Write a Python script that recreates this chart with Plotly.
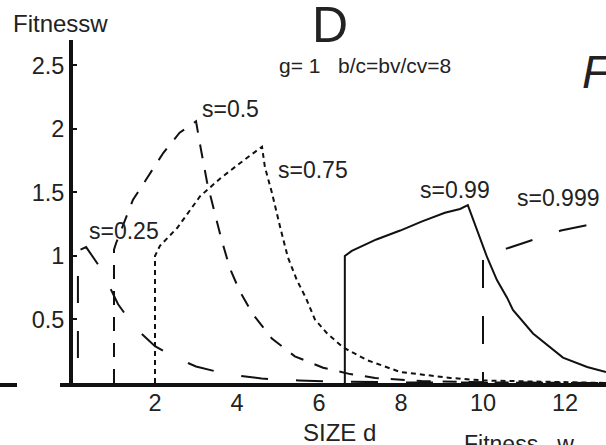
import plotly.graph_objects as go

# ---- data (SIZE d, fitness w) ----
s025_d = [0.12, 0.12, 0.32, 0.66, 1.1, 1.5, 2.0, 2.5, 3.0, 3.5, 4.0, 4.6, 5.5, 6.5, 8.0, 10.0, 13.0]
s025_w = [0.0, 1.04, 1.07, 0.91, 0.62, 0.44, 0.29, 0.20, 0.13, 0.09, 0.06, 0.035, 0.02, 0.01, 0.005, 0.002, 0.0]

s05_d = [1.0, 1.0, 1.05, 1.46, 1.8, 2.2, 2.6, 3.0, 3.12, 3.27, 3.44, 3.63, 3.83, 4.07, 4.39, 4.85, 5.41, 6.1, 6.76, 7.37, 8.5, 10.0, 13.0]
s05_w = [0.0, 1.05, 1.1, 1.44, 1.61, 1.81, 1.97, 2.06, 1.84, 1.58, 1.36, 1.12, 0.90, 0.72, 0.54, 0.35, 0.21, 0.12, 0.07, 0.04, 0.015, 0.005, 0.0]

s075_d = [2.0, 2.0, 2.12, 2.54, 3.1, 3.59, 4.07, 4.44, 4.61, 4.68, 4.85, 5.05, 5.24, 5.46, 5.68, 5.9, 6.2, 6.59, 7.17, 7.98, 9.2, 10.0, 11.5, 13.0]
s075_w = [0.0, 1.0, 1.08, 1.22, 1.47, 1.61, 1.73, 1.82, 1.86, 1.70, 1.50, 1.23, 0.99, 0.81, 0.67, 0.50, 0.39, 0.28, 0.18, 0.087, 0.04, 0.02, 0.008, 0.0]

s099_d = [6.63, 6.63, 6.8, 7.4, 7.98, 8.5, 9.07, 9.44, 9.63, 9.88, 10.1, 10.34, 10.59, 10.73, 11.22, 11.95, 12.54, 13.0]
s099_w = [0.0, 1.0, 1.04, 1.13, 1.20, 1.27, 1.34, 1.37, 1.40, 1.18, 0.99, 0.81, 0.67, 0.575, 0.39, 0.20, 0.126, 0.087]

s0999_d = [10.0, 10.0, 10.59, 11.27, 11.9, 12.5, 13.0]
s0999_w = [0.0, 1.0, 1.06, 1.13, 1.20, 1.24, 1.27]

series = [
    ("s=0.25", s025_d, s025_w, "0px,25px,27px,3px"),
    ("s=0.5", s05_d, s05_w, "14px,12px"),
    ("s=0.75", s075_d, s075_w, "5px,4px"),
    ("s=0.99", s099_d, s099_w, "solid"),
    ("s=0.999", s0999_d, s0999_w, "11px,28px,17px,0px"),
]

# label anchor positions (data units)
label_d = [1.24, 3.85, 5.85, 9.32, 11.85]
label_w = [1.20, 2.16, 1.68, 1.52, 1.46]

x_ticks = [2, 4, 6, 8, 10, 12]
y_ticks = [0.5, 1, 1.5, 2, 2.5]
y_ticktext = ["0.5", "1", "1.5", "2", "2.5"]

FONT = "Liberation Sans, Arial, Helvetica, sans-serif"
INK = "#111111"
TXT = "#222222"

fig = go.Figure()
for name, d, w, dash in series:
    fig.add_trace(go.Scatter(x=d, y=w, mode="lines", name=name,
                             line=dict(color=INK, width=2, dash=dash),
                             hoverinfo="skip", showlegend=False))

annotations = []
for (name, _, _, _), ld, lw in zip(series, label_d, label_w):
    annotations.append(dict(x=ld, y=lw, xref="x", yref="y", text=name, showarrow=False,
                            font=dict(family=FONT, size=23, color=TXT)))

def px(x, y):
    return (x - 73) / 533.0, (383 - y) / 343.0

extra = [
    ("Fitnessw", 60, 23, 24, "center", "normal"),
    ("D", 330, 25, 50, "center", "normal"),
    ("g=\u00a01\u00a0\u00a0\u00a0b/c=bv/cv=8", 277, 65, 21, "left", "normal"),
    ("F", 580, 72, 46, "left", "italic"),
    ("SIZE d", 339, 432, 24, "center", "normal"),
    ("Fitness\u00a0\u00a0\u00a0w", 462, 444, 23, "left", "normal"),
]
for t, x, y, sz, xa, st in extra:
    fx, fy = px(x, y)
    annotations.append(dict(x=fx, y=fy, xref="paper", yref="paper", text=t, showarrow=False,
                            xanchor=xa, yanchor="middle",
                            font=dict(family=FONT, size=sz, color=TXT, style=st)))

sx0, _ = px(60, 0)
sx1, _ = px(0, 0)
sx2, _ = px(17, 0)
sy = -2 / 343.0
shapes = [
    dict(type="line", xref="paper", yref="paper", x0=sx0, x1=0, y0=sy, y1=sy,
         line=dict(color=INK, width=4)),
    dict(type="line", xref="paper", yref="paper", x0=sx1, x1=sx2, y0=sy, y1=sy,
         line=dict(color=INK, width=4)),
]

fig.update_layout(
    width=606, height=445,
    margin=dict(l=73, r=0, t=40, b=62, pad=0),
    paper_bgcolor="white", plot_bgcolor="white",
    font=dict(family=FONT, color=TXT),
    xaxis=dict(range=[0, 13], tickvals=x_ticks, ticks="", showline=True, linewidth=4,
               linecolor=INK, showgrid=False, zeroline=False, ticklabelstandoff=-4,
               tickfont=dict(family=FONT, size=23.5, color=TXT)),
    yaxis=dict(range=[0, 2.7], tickvals=y_ticks, ticktext=y_ticktext, ticks="inside",
               ticklen=4, tickwidth=1.5, tickcolor=INK, showline=True, linewidth=4,
               linecolor=INK, showgrid=False, zeroline=False,
               tickfont=dict(family=FONT, size=23.5, color=TXT)),
    annotations=annotations,
    shapes=shapes,
)

fig.write_html("out.html")
